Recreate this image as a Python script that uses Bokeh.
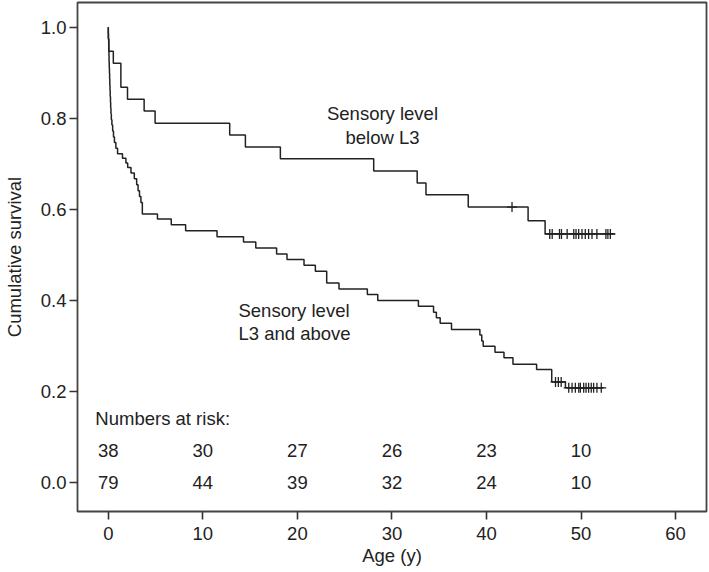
from bokeh.plotting import figure
from bokeh.models import FixedTicker, Range1d, ColumnDataSource
from bokeh.core.properties import value
from bokeh.embed import file_html
from bokeh.resources import INLINE

# ---- data ----
upper_time = [0.0, 0.0, 0.05, 0.53, 1.33, 2.03, 3.79, 4.95, 12.84, 14.5, 18.2, 28.07, 32.67,
              33.6, 38.07, 44.4, 46.2, 53.6]
upper_surv = [1.0, 0.974, 0.947, 0.921, 0.868, 0.842, 0.816, 0.789, 0.763, 0.737, 0.711, 0.684,
              0.658, 0.632, 0.605, 0.575, 0.546, 0.546]
upper_cens_time = [42.7, 46.69, 46.95, 47.72, 47.93, 48.53, 49.23, 49.47, 49.75, 50.1, 50.45,
                   50.8, 51.16, 51.68, 52.63, 52.84, 53.1]
upper_cens_surv = [0.605] + [0.546] * 16

lower_time = [0.0, 0.0, 0.02, 0.04, 0.05, 0.07, 0.08, 0.10, 0.12, 0.14, 0.16, 0.18, 0.20, 0.23,
              0.25, 0.28, 0.32, 0.38, 0.46, 0.55, 0.65, 0.80, 0.98, 1.50, 1.86, 2.05, 2.40,
              2.75, 3.00, 3.15, 3.30, 3.45, 3.60, 5.2, 6.66, 8.18, 11.5, 14.3, 15.6, 17.8,
              18.9, 20.7, 21.9, 23.1, 24.4, 27.4, 28.5, 32.8, 34.4, 34.7, 35.1, 36.3, 39.3,
              39.5, 39.65, 40.9, 41.85, 42.8, 45.3, 46.9, 48.35, 52.4]
lower_surv = [1.0, 0.987, 0.975, 0.962, 0.949, 0.937, 0.924, 0.911, 0.899, 0.886, 0.873, 0.861,
              0.848, 0.835, 0.823, 0.810, 0.797, 0.785, 0.772, 0.759, 0.747, 0.734, 0.722,
              0.712, 0.702, 0.692, 0.680, 0.667, 0.654, 0.641, 0.628, 0.615, 0.590, 0.579,
              0.566, 0.553, 0.540, 0.528, 0.515, 0.502, 0.490, 0.477, 0.464, 0.438, 0.425,
              0.413, 0.400, 0.387, 0.374, 0.362, 0.350, 0.336, 0.324, 0.311, 0.299, 0.286,
              0.274, 0.260, 0.248, 0.221, 0.208, 0.208]
lower_cens_time = [47.3, 47.6, 47.9, 48.7, 49.05, 49.4, 49.76, 49.93, 50.28, 50.53, 50.8,
                   51.08, 51.33, 51.68, 52.14]
lower_cens_surv = [0.221] * 3 + [0.208] * 12

risk_times = [0, 10, 20, 30, 40, 50]
risk_upper = [38, 30, 27, 26, 23, 10]
risk_lower = [79, 44, 39, 32, 24, 10]
risk_rows_y = [0.07, 0.0]
risk_title = "Numbers at risk:"
risk_title_pos = (-1.37, 0.14)

label_upper = ["Sensory level", "below L3"]
label_upper_pos = (29.0, [0.810, 0.758])
label_lower = ["Sensory level", "L3 and above"]
label_lower_pos = (13.77, [0.378, 0.327])

x_ticks = [0, 10, 20, 30, 40, 50, 60]
y_ticks = [0.0, 0.2, 0.4, 0.6, 0.8, 1.0]

FONT = "Liberation Sans"
FS = "18.5px"
INK = "#222222"

p = figure(width=709, height=572, output_backend="svg", toolbar_location=None,
           x_range=Range1d(-3.258, 63.27), y_range=Range1d(-0.0637, 1.0543),
           min_border_left=73, min_border_right=3, min_border_top=2, min_border_bottom=61)
p.xgrid.visible = False
p.ygrid.visible = False
p.outline_line_color = "#444444"
p.outline_line_width = 1.8
p.background_fill_color = "white"
p.border_fill_color = "white"

for ax in (p.xaxis[0], p.yaxis[0]):
    ax.axis_line_color = None
    ax.major_tick_in = 0
    ax.major_tick_out = 8
    ax.major_tick_line_color = "#333333"
    ax.major_tick_line_width = 1.6
    ax.minor_tick_line_color = None
    ax.major_label_text_font = FONT
    ax.major_label_text_font_size = FS
    ax.major_label_text_color = INK
    ax.axis_label_text_font = FONT
    ax.axis_label_text_font_size = FS
    ax.axis_label_text_font_style = "normal"
    ax.axis_label_text_color = INK

p.xaxis.ticker = FixedTicker(ticks=x_ticks)
p.yaxis.ticker = FixedTicker(ticks=y_ticks)
p.yaxis.major_label_overrides = {t: f"{t:.1f}" for t in y_ticks}
p.xaxis.axis_label = "Age (y)"
p.yaxis.axis_label = "Cumulative survival"
p.xaxis.major_label_standoff = 7
p.xaxis.axis_label_standoff = 2
p.yaxis.major_label_standoff = 3
p.yaxis.axis_label_standoff = 13

# survival curves
p.step(upper_time, upper_surv, mode="after", line_color=INK, line_width=1.5)
p.step(lower_time, lower_surv, mode="after", line_color=INK, line_width=1.5)
p.scatter(upper_cens_time, upper_cens_surv, marker="cross", size=10, line_color=INK,
          line_width=1.3)
p.scatter(lower_cens_time, lower_cens_surv, marker="cross", size=10, line_color=INK,
          line_width=1.3)

# curve labels
p.text(x=[label_upper_pos[0]] * 2, y=label_upper_pos[1], text=label_upper,
       text_align="center", text_baseline="middle", text_font=value(FONT),
       text_font_size=FS, text_color=INK)
p.text(x=[label_lower_pos[0]] * 2, y=label_lower_pos[1], text=label_lower,
       text_align="left", text_baseline="middle", text_font=value(FONT),
       text_font_size=FS, text_color=INK)

# numbers at risk
p.text(x=[risk_title_pos[0]], y=[risk_title_pos[1]], text=[risk_title], text_align="left",
       text_baseline="middle", text_font=value(FONT), text_font_size=FS, text_color=INK)
for row_y, row in zip(risk_rows_y, [risk_upper, risk_lower]):
    src = ColumnDataSource(dict(x=risk_times, y=[row_y] * len(risk_times),
                                t=[str(v) for v in row]))
    p.text(x="x", y="y", text="t", source=src, text_align="center", text_baseline="middle",
           text_font=value(FONT), text_font_size=FS, text_color=INK)

open("out.html", "w").write(file_html(p, INLINE))
